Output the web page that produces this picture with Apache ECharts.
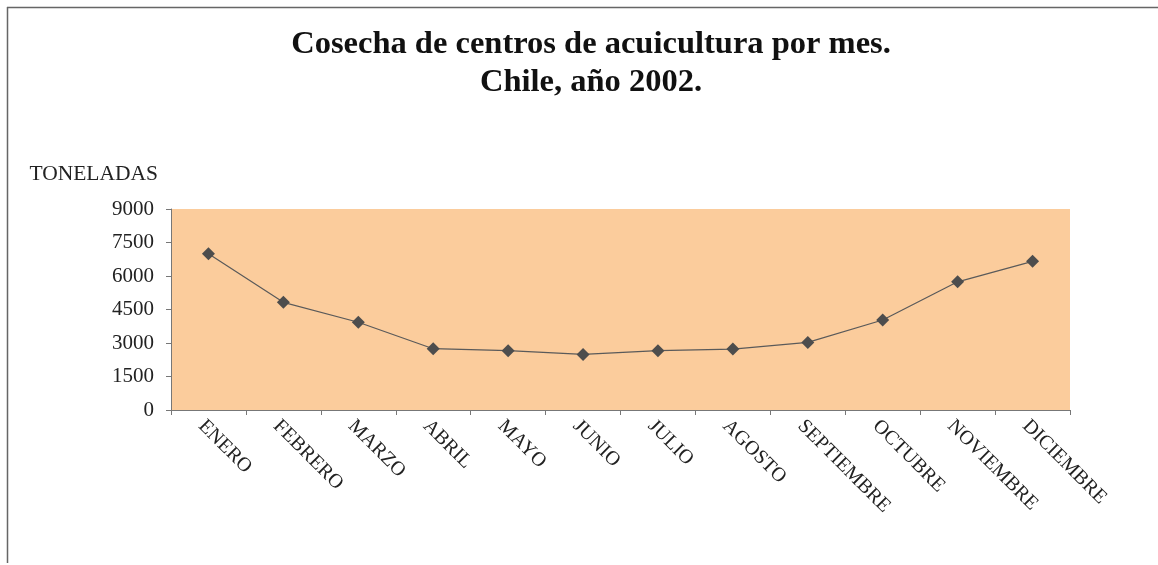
<!DOCTYPE html>
<html>
<head>
<meta charset="utf-8">
<script src="https://cdn.jsdelivr.net/npm/echarts@6/dist/echarts.min.js"></script>
<style>html,body{margin:0;padding:0;background:#fff;}#c{width:1158px;height:565px;}</style>
</head>
<body>
<div id="c"></div>
<script>
const months = ['ENERO','FEBRERO','MARZO','ABRIL','MAYO','JUNIO','JULIO','AGOSTO','SEPTIEMBRE','OCTUBRE','NOVIEMBRE','DICIEMBRE'];
const toneladas = [7000, 4820, 3930, 2745, 2655, 2490, 2655, 2730, 3025, 4030, 5740, 6655];
const yTicks = {min: 0, max: 9000, interval: 1500};
const titleText = 'Cosecha de centros de acuicultura por mes.\nChile, año 2002.';
const yName = 'TONELADAS';

const serif = '"Liberation Serif", "DejaVu Serif", serif';
const chart = echarts.init(document.getElementById('c'));
chart.setOption({
  backgroundColor: '#ffffff',
  animation: false,
  title: {
    text: titleText,
    left: 586,
    textAlign: 'center',
    top: 21,
    textStyle: {fontFamily: serif, fontWeight: 'bold', fontSize: 32.5, lineHeight: 38, color: '#111'}
  },
  graphic: [
    {type: 'line', shape: {x1: 7, y1: 7.5, x2: 1158, y2: 7.5}, style: {stroke: '#666', lineWidth: 1.5}},
    {type: 'line', shape: {x1: 7.5, y1: 7, x2: 7.5, y2: 563}, style: {stroke: '#666', lineWidth: 1.5}}
  ],
  grid: {
    left: 171, right: 88, top: 209, bottom: 155,
    show: true, backgroundColor: '#FBCC9C', borderWidth: 0
  },
  xAxis: {
    type: 'category',
    data: months,
    boundaryGap: true,
    axisLine: {lineStyle: {color: '#777', width: 1}},
    axisTick: {show: true, length: 5, lineStyle: {color: '#777'}},
    axisLabel: {rotate: -45, margin: 6, verticalAlign: 'top', fontFamily: serif, fontSize: 20, color: '#222', interval: 0},
    splitLine: {show: false}
  },
  yAxis: {
    type: 'value',
    min: yTicks.min, max: yTicks.max, interval: yTicks.interval,
    name: yName,
    nameLocation: 'end',
    nameGap: 24,
    nameTextStyle: {fontFamily: serif, fontSize: 21.5, color: '#222', align: 'right', padding: [0, 13, 0, 0]},
    axisLine: {show: true, lineStyle: {color: '#777', width: 1}},
    axisTick: {show: true, length: 5, lineStyle: {color: '#777'}},
    axisLabel: {margin: 17, fontFamily: serif, fontSize: 21, color: '#222', formatter: v => String(v)},
    splitLine: {show: false}
  },
  series: [{
    type: 'line',
    data: toneladas,
    symbol: 'diamond',
    symbolSize: 13,
    lineStyle: {color: '#5a5a5a', width: 1.2},
    itemStyle: {color: '#4d4d4d'}
  }]
});
</script>
</body>
</html>
